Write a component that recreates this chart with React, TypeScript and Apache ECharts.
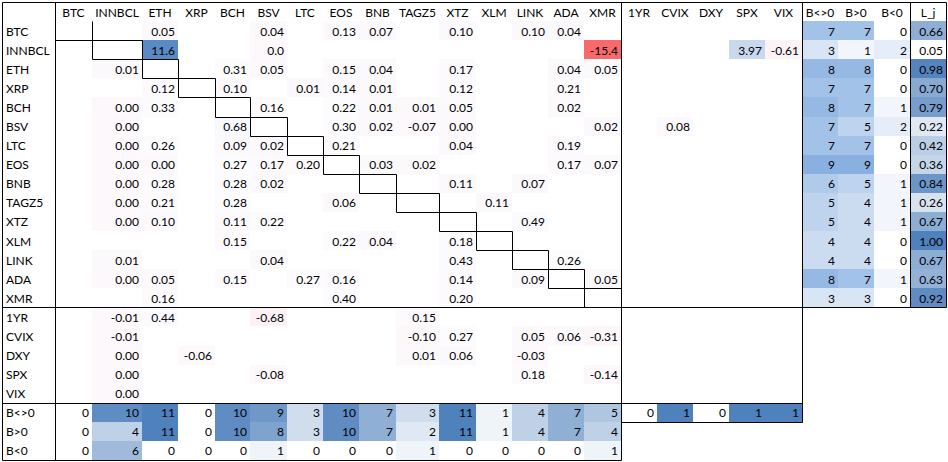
import React, { useEffect, useRef } from "react";
import * as echarts from "echarts";

// ---------- labels ----------
const colLabels = ["BTC", "INNBCL", "ETH", "XRP", "BCH", "BSV", "LTC", "EOS", "BNB", "TAGZ5", "XTZ", "XLM", "LINK", "ADA", "XMR", "1YR", "CVIX", "DXY", "SPX", "VIX", "B<>0", "B>0", "B<0", "L_j"];
const rowLabels = ["BTC", "INNBCL", "ETH", "XRP", "BCH", "BSV", "LTC", "EOS", "BNB", "TAGZ5", "XTZ", "XLM", "LINK", "ADA", "XMR", "1YR", "CVIX", "DXY", "SPX", "VIX", "B<>0", "B>0", "B<0"];

// ---------- coefficient rows: [column, shown value] ----------
const rowBTC = [["ETH", "0.05"], ["BSV", "0.04"], ["EOS", "0.13"], ["BNB", "0.07"], ["XTZ", "0.10"], ["LINK", "0.10"], ["ADA", "0.04"]];
const rowINNBCL = [["ETH", "11.6"], ["BSV", "0.0"], ["XMR", "-15.4"], ["SPX", "3.97"], ["VIX", "-0.61"]];
const rowETH = [["INNBCL", "0.01"], ["BCH", "0.31"], ["BSV", "0.05"], ["EOS", "0.15"], ["BNB", "0.04"], ["XTZ", "0.17"], ["ADA", "0.04"], ["XMR", "0.05"]];
const rowXRP = [["ETH", "0.12"], ["BCH", "0.10"], ["LTC", "0.01"], ["EOS", "0.14"], ["BNB", "0.01"], ["XTZ", "0.12"], ["ADA", "0.21"]];
const rowBCH = [["INNBCL", "0.00"], ["ETH", "0.33"], ["BSV", "0.16"], ["EOS", "0.22"], ["BNB", "0.01"], ["TAGZ5", "0.01"], ["XTZ", "0.05"], ["ADA", "0.02"]];
const rowBSV = [["INNBCL", "0.00"], ["BCH", "0.68"], ["EOS", "0.30"], ["BNB", "0.02"], ["TAGZ5", "-0.07"], ["XTZ", "0.00"], ["XMR", "0.02"], ["CVIX", "0.08"]];
const rowLTC = [["INNBCL", "0.00"], ["ETH", "0.26"], ["BCH", "0.09"], ["BSV", "0.02"], ["EOS", "0.21"], ["XTZ", "0.04"], ["ADA", "0.19"]];
const rowEOS = [["INNBCL", "0.00"], ["ETH", "0.00"], ["BCH", "0.27"], ["BSV", "0.17"], ["LTC", "0.20"], ["BNB", "0.03"], ["TAGZ5", "0.02"], ["ADA", "0.17"], ["XMR", "0.07"]];
const rowBNB = [["INNBCL", "0.00"], ["ETH", "0.28"], ["BCH", "0.28"], ["BSV", "0.02"], ["XTZ", "0.11"], ["LINK", "0.07"]];
const rowTAGZ5 = [["INNBCL", "0.00"], ["ETH", "0.21"], ["BCH", "0.28"], ["EOS", "0.06"], ["XLM", "0.11"]];
const rowXTZ = [["INNBCL", "0.00"], ["ETH", "0.10"], ["BCH", "0.11"], ["BSV", "0.22"], ["LINK", "0.49"]];
const rowXLM = [["BCH", "0.15"], ["EOS", "0.22"], ["BNB", "0.04"], ["XTZ", "0.18"]];
const rowLINK = [["INNBCL", "0.01"], ["BSV", "0.04"], ["XTZ", "0.43"], ["ADA", "0.26"]];
const rowADA = [["INNBCL", "0.00"], ["ETH", "0.05"], ["BCH", "0.15"], ["LTC", "0.27"], ["EOS", "0.16"], ["XTZ", "0.14"], ["LINK", "0.09"], ["XMR", "0.05"]];
const rowXMR = [["ETH", "0.16"], ["EOS", "0.40"], ["XTZ", "0.20"]];
const row1YR = [["INNBCL", "-0.01"], ["ETH", "0.44"], ["BSV", "-0.68"], ["TAGZ5", "0.15"]];
const rowCVIX = [["INNBCL", "-0.01"], ["TAGZ5", "-0.10"], ["XTZ", "0.27"], ["LINK", "0.05"], ["ADA", "0.06"], ["XMR", "-0.31"]];
const rowDXY = [["INNBCL", "0.00"], ["XRP", "-0.06"], ["TAGZ5", "0.01"], ["XTZ", "0.06"], ["LINK", "-0.03"]];
const rowSPX = [["INNBCL", "0.00"], ["BSV", "-0.08"], ["LINK", "0.18"], ["XMR", "-0.14"]];
const rowVIX = [["INNBCL", "0.00"]];

// ---------- right-hand counts per row (BTC..XMR) ----------
const rowNonZero = [7, 3, 8, 7, 8, 7, 7, 9, 6, 5, 5, 4, 4, 8, 3];
const rowPositive = [7, 1, 8, 7, 7, 5, 7, 9, 5, 4, 4, 4, 4, 7, 3];
const rowNegative = [0, 2, 0, 0, 1, 2, 0, 0, 1, 1, 1, 0, 0, 1, 0];
const rowLj = ["0.66", "0.05", "0.98", "0.70", "0.79", "0.22", "0.42", "0.36", "0.84", "0.26", "0.67", "1.00", "0.67", "0.63", "0.92"];

// ---------- bottom counts per column ----------
const colNonZero = [0, 10, 11, 0, 10, 9, 3, 10, 7, 3, 11, 1, 4, 7, 5];
const colPositive = [0, 4, 11, 0, 10, 8, 3, 10, 7, 2, 11, 1, 4, 7, 4];
const colNegative = [0, 6, 0, 0, 0, 1, 0, 0, 0, 1, 0, 0, 0, 0, 1];
const macroNonZero = [0, 1, 0, 1, 1];

// ---------- layout (pixels) ----------
const LABEL_W = 53;
const COL_W = [37, 50, 36, 37, 35, 37, 36, 36, 37, 43, 37, 36, 36, 36, 37, 36, 36, 36, 36, 37, 36, 36, 36, 36];
const N_ROWS = 24;
const FONT = "Lato, 'Open Sans', sans-serif";

const edges: number[] = [0, LABEL_W];
COL_W.forEach((w) => edges.push(edges[edges.length - 1] + w));
const TOTAL_W = edges[edges.length - 1];
const colL = (c: number) => edges[c + 1];
const colR = (c: number) => edges[c + 2];

const mainRows = [rowBTC, rowINNBCL, rowETH, rowXRP, rowBCH, rowBSV, rowLTC, rowEOS, rowBNB, rowTAGZ5, rowXTZ, rowXLM, rowLINK, rowADA, rowXMR, row1YR, rowCVIX, rowDXY, rowSPX, rowVIX];

const allMain: number[] = [];
mainRows.forEach((r) => r.forEach(([, t]) => allMain.push(parseFloat(t))));
const MAIN_MIN = Math.min(...allMain);
const MAIN_MAX = Math.max(...allMain);
const MAIN_MID = 0.38;

const lerp = (f: number, a: string, b: string) => echarts.color.lerp(Math.max(0, Math.min(1, f)), [a, b]) as string;
const mainColor = (v: number) =>
  v < MAIN_MID
    ? lerp((MAIN_MID - v) / (MAIN_MID - MAIN_MIN), "#FCFCFF", "#F8696B")
    : lerp((v - MAIN_MID) / (MAIN_MAX - MAIN_MID), "#FCFCFF", "#5A8AC6");
const rightMax = Math.max(...rowNonZero, ...rowPositive, ...rowNegative);
const rightColor = (v: number) => lerp(v / rightMax, "#FFFFFF", "#89B0E0");
const ljNums = rowLj.map(parseFloat);
const ljMin = Math.min(...ljNums);
const ljMax = Math.max(...ljNums);
const ljColor = (v: number) => lerp((v - ljMin) / (ljMax - ljMin), "#FFFFFF", "#4F81BD");
const botMax = Math.max(...colNonZero, ...colPositive, ...colNegative);
const botColor = (v: number) => lerp(v / botMax, "#FFFFFF", "#4F81BD");
const macroMax = Math.max(...macroNonZero);
const macroColor = (v: number) => lerp(v / macroMax, "#FFFFFF", "#4F81BD");

type Cell = { x0: number; x1: number; r: number; fill?: string; text: string; align: "left" | "center" | "right" };
const cells: Cell[] = [];

colLabels.forEach((name, c) => cells.push({ x0: colL(c), x1: colR(c), r: 0, text: name, align: "center" }));
rowLabels.forEach((name, i) => cells.push({ x0: 0, x1: LABEL_W, r: i + 1, text: name, align: "left" }));
mainRows.forEach((row, i) =>
  row.forEach(([col, txt]) => {
    const c = colLabels.indexOf(col);
    cells.push({ x0: colL(c), x1: colR(c), r: i + 1, fill: mainColor(parseFloat(txt)), text: txt, align: "right" });
  })
);
[rowNonZero, rowPositive, rowNegative].forEach((arr, k) =>
  arr.forEach((v, i) => cells.push({ x0: colL(20 + k), x1: colR(20 + k), r: i + 1, fill: rightColor(v), text: String(v), align: "right" }))
);
rowLj.forEach((t, i) => cells.push({ x0: colL(23), x1: colR(23), r: i + 1, fill: ljColor(parseFloat(t)), text: t, align: "right" }));
[colNonZero, colPositive, colNegative].forEach((arr, k) =>
  arr.forEach((v, c) => cells.push({ x0: colL(c), x1: colR(c), r: 21 + k, fill: botColor(v), text: String(v), align: "right" }))
);
macroNonZero.forEach((v, j) => cells.push({ x0: colL(15 + j), x1: colR(15 + j), r: 21, fill: macroColor(v), text: String(v), align: "right" }));

// ---------- rule lines [xa, ya, xb, yb] in axis units ----------
const lines: number[][] = [
  [0, 0, TOTAL_W, 0],
  [0, 0, 0, N_ROWS],
  [LABEL_W, 0, LABEL_W, N_ROWS],
  [colR(14), 0, colR(14), N_ROWS],
  [colR(19), 0, colR(19), 22],
  [colR(22), 0, colR(22), 16],
  [TOTAL_W, 0, TOTAL_W, 16],
  [0, 16, TOTAL_W, 16],
  [0, 21, colR(19), 21],
  [colR(14), 22, colR(19), 22],
  [0, N_ROWS, colR(14), N_ROWS],
];
for (let i = 0; i < 15; i++) {
  const x0 = colL(i), x1 = colR(i), y0 = i + 1, y1 = i + 2;
  if (i > 0) lines.push([x0, y0, x1, y0]);
  lines.push([x1, y0, x1, y1]);
  lines.push([x0, y1, x1, y1]);
  if (i > 0) lines.push([x0, y0, x0, y1]);
}

export default function App() {
  const ref = useRef<HTMLDivElement>(null);
  useEffect(() => {
    if (!ref.current) return;
    const chart = echarts.init(ref.current, undefined, { renderer: "svg" });
    chart.setOption({
      animation: false,
      backgroundColor: "#FFFFFF",
      grid: { left: 2, top: 2, width: TOTAL_W, height: 458 },
      xAxis: { type: "value", min: 0, max: TOTAL_W, show: false },
      yAxis: { type: "value", min: 0, max: N_ROWS, inverse: true, show: false },
      series: [
        {
          type: "custom",
          silent: true,
          clip: false,
          data: cells.map((c) => [c.x0, c.x1, c.r, c.r + 1]),
          renderItem: (params: any, api: any) => {
            const m = cells[params.dataIndex];
            const p0 = api.coord([api.value(0), api.value(2)]);
            const p1 = api.coord([api.value(1), api.value(3)]);
            const x0 = Math.round(p0[0]), x1 = Math.round(p1[0]);
            const y0 = Math.round(p0[1]), y1 = Math.round(p1[1]);
            const children: any[] = [];
            if (m.fill) {
              children.push({ type: "rect", shape: { x: x0, y: y0, width: x1 - x0, height: y1 - y0 }, style: { fill: m.fill } });
            }
            const tx = m.align === "right" ? x1 - 3 : m.align === "center" ? (x0 + x1) / 2 : x0 + 4;
            children.push({
              type: "text",
              style: {
                text: m.text,
                x: tx,
                y: (p0[1] + p1[1]) / 2 + 0.5,
                align: m.align,
                verticalAlign: "middle",
                fill: "#000000",
                fontSize: 12,
                fontFamily: FONT,
              },
            });
            return { type: "group", children };
          },
        },
        {
          type: "custom",
          silent: true,
          clip: false,
          data: lines,
          renderItem: (params: any, api: any) => {
            const a = api.coord([api.value(0), api.value(1)]);
            const b = api.coord([api.value(2), api.value(3)]);
            return {
              type: "line",
              shape: { x1: Math.round(a[0]) + 0.5, y1: Math.round(a[1]) + 0.5, x2: Math.round(b[0]) + 0.5, y2: Math.round(b[1]) + 0.5 },
              style: { stroke: "#000000", lineWidth: 1 },
            };
          },
        },
      ],
    });
    return () => chart.dispose();
  }, []);
  return <div ref={ref} style={{ position: "absolute", left: 0, top: 0, width: 948, height: 462 }} />;
}
